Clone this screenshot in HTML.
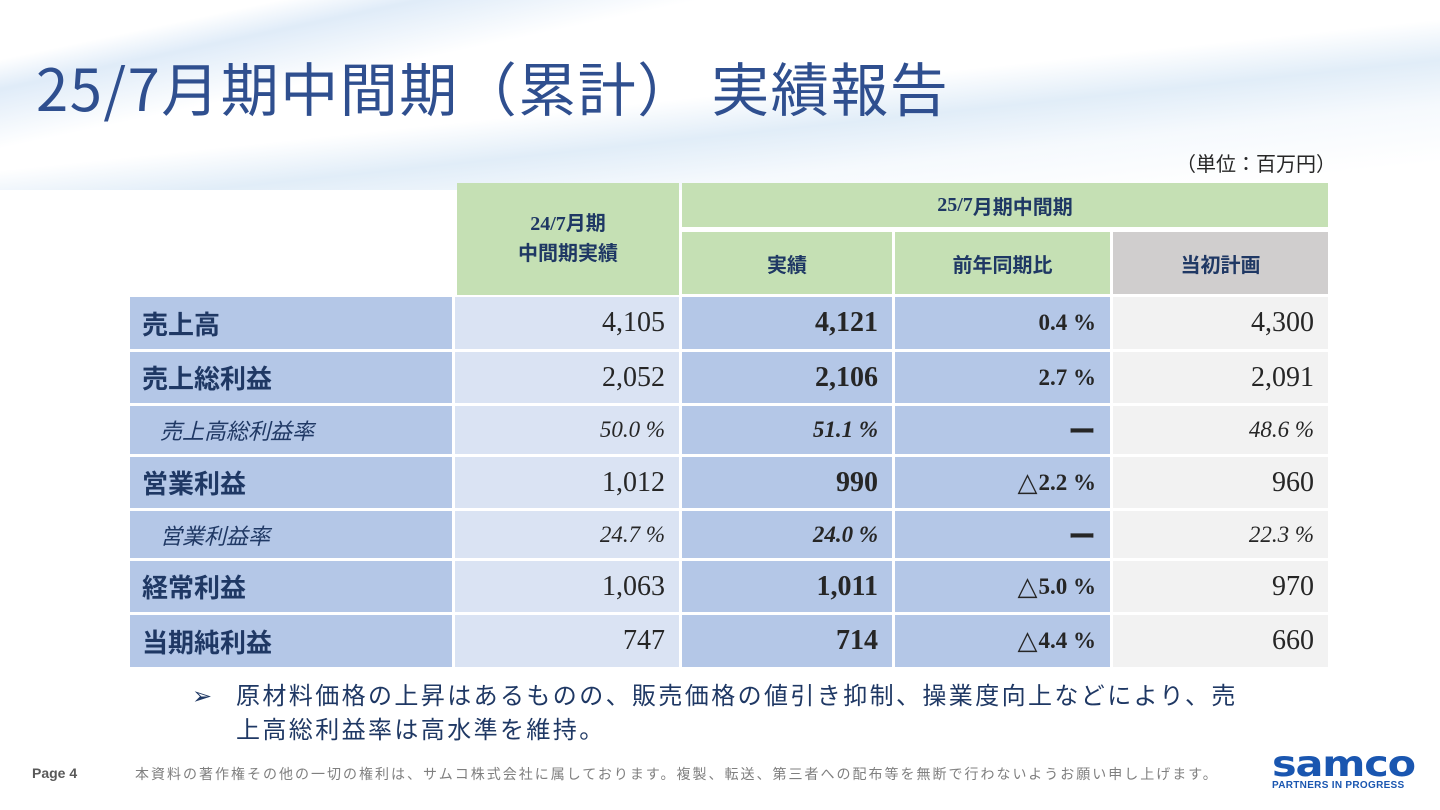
<!DOCTYPE html>
<html><head><meta charset="utf-8">
<style>
body{margin:0;width:1440px;height:810px;position:relative;overflow:hidden;background:#fff;font-family:"Liberation Sans","Noto Sans CJK JP",sans-serif;}
.abs{position:absolute;box-sizing:border-box;}
.swoosh{position:absolute;left:0;top:0;width:1440px;height:190px;background:
 linear-gradient(174deg,rgba(255,255,255,0) 0%,rgba(255,255,255,0) 50%,rgba(200,222,242,.55) 62%,rgba(230,240,250,.4) 75%,rgba(255,255,255,0) 92%),
 linear-gradient(168deg,rgba(255,255,255,0) 0%,rgba(255,255,255,0) 12%,rgba(185,212,240,.45) 18%,rgba(255,255,255,0) 30%);}
.cell{position:absolute;box-sizing:border-box;display:flex;align-items:center;}
.lab{background:#b4c7e7;color:#1f3864;font-size:26px;font-weight:bold;padding-left:12px;}
.lab.sub{font-size:22px;font-style:italic;font-weight:normal;padding-left:30px;}
.num{justify-content:flex-end;padding-right:14px;font-family:"Liberation Serif","Noto Serif CJK SC",serif;color:#262626;font-size:28px;}
.num.it{font-style:italic;font-size:23px;}
.c1{background:#dae3f3;}
.c2{background:#b4c7e7;font-weight:bold;}
.c3{background:#b4c7e7;font-weight:bold;font-size:23px;}
.c4{background:#f2f2f2;}
.tri{font-family:"DejaVu Sans",sans-serif;font-size:26px;font-weight:bold;margin-right:1px;}
.dash{font-family:"Noto Sans CJK JP",sans-serif;font-weight:bold;font-size:28px;}
.hdr{position:absolute;box-sizing:border-box;display:flex;align-items:center;justify-content:center;text-align:center;color:#1f3864;font-weight:bold;font-size:20px;}
</style></head><body>
<div class="swoosh"></div>
<div class="abs" style="left:36px;top:44px;font-size:58px;letter-spacing:1.5px;color:#2f4f8f;font-family:'Noto Sans CJK JP',sans-serif;white-space:nowrap;">25/7月期中間期（累計） 実績報告</div>
<div class="abs" style="left:1176px;top:148px;font-size:20px;color:#262626;">（単位：百万円）</div>

<div class="hdr" style="left:457px;top:183px;width:222px;height:112px;background:#c5e0b4;line-height:30px;"><div><span style="font-family:'Liberation Serif',serif">24/7</span>月期<br>中間期実績</div></div>
<div class="hdr" style="left:682px;top:183px;width:646px;height:44px;background:#c5e0b4;"><span style="font-family:'Liberation Serif',serif">25/7</span>月期中間期</div>
<div class="hdr" style="left:682px;top:232px;width:210px;height:62px;background:#c5e0b4;">実績</div>
<div class="hdr" style="left:895px;top:232px;width:215px;height:62px;background:#c5e0b4;">前年同期比</div>
<div class="hdr" style="left:1113px;top:232px;width:215px;height:62px;background:#d0cece;">当初計画</div>

<div id="rows"></div>

<div class="abs" style="left:192px;top:680px;font-size:24px;color:#1f3864;line-height:34px;width:1150px;">
<span style="position:absolute;left:0;top:0;">➢</span>
<div style="padding-left:44px;letter-spacing:2.4px;white-space:nowrap;">原材料価格の上昇はあるものの、販売価格の値引き抑制、操業度向上などにより、売<br>上高総利益率は高水準を維持。</div></div>

<div class="abs" style="left:32px;top:765px;font-size:14px;color:#595959;font-weight:bold;">Page 4</div>
<div class="abs" style="left:135px;top:764px;font-size:14px;letter-spacing:2px;color:#7f7f7f;white-space:nowrap;">本資料の著作権その他の一切の権利は、サムコ株式会社に属しております。複製、転送、第三者への配布等を無断で行わないようお願い申し上げます。</div>
<div class="abs" style="left:1272px;top:750px;width:140px;">
<div style="font-family:'DejaVu Sans',sans-serif;font-weight:bold;font-size:36px;color:#1a56b0;letter-spacing:-1px;line-height:30px;transform:scaleX(1.15);transform-origin:left;">samco</div>
<div style="font-size:10px;font-weight:bold;color:#1a56b0;letter-spacing:0.3px;">PARTNERS IN PROGRESS</div></div>

<script>
const labels=["売上高","売上総利益","売上高総利益率","営業利益","営業利益率","経常利益","当期純利益"];
const prev=["4,105","2,052","50.0 %","1,012","24.7 %","1,063","747"];
const actual=["4,121","2,106","51.1 %","990","24.0 %","1,011","714"];
const yoy=["0.4 %","2.7 %","ー","△2.2 %","ー","△5.0 %","△4.4 %"];
const plan=["4,300","2,091","48.6 %","960","22.3 %","970","660"];
const isSub=[false,false,true,false,true,false,false];
const rowTops=[297,352,406,457,511,561,615];
const rowH=[52,51,48,51,47,51,52];
const host=document.getElementById('rows');
function mk(cls,x,w,i,txt){
 const d=document.createElement('div');
 d.className='cell '+cls;
 d.style.left=x+'px';d.style.top=rowTops[i]+'px';d.style.width=w+'px';d.style.height=rowH[i]+'px';
 d.textContent=txt;host.appendChild(d);return d;}
labels.forEach((l,i)=>{
 const it=isSub[i]?' it':'';
 const a=mk('lab'+(isSub[i]?' sub':''),130,322,i,l);
 
 
 const b=mk('num c1'+it,455,224,i,prev[i]);
 
 
 const c=mk('num c2'+it,682,210,i,actual[i]);
 
 
 const d=mk('num c3',895,215,i,'');
 const v=yoy[i];
 if(v==='ー'){d.innerHTML='<span class="dash">ー</span>';}
 else if(v.startsWith('△')){d.innerHTML='<span class="tri">△</span>'+v.slice(1);}
 else d.textContent=v;
 
 
 const e=mk('num c4'+it,1113,215,i,plan[i]);
 
 
});
</script>
</body></html>
